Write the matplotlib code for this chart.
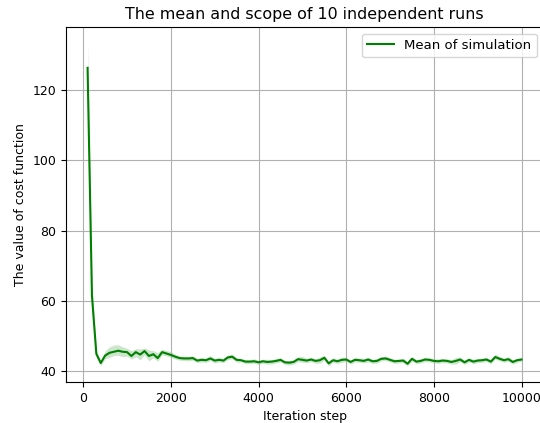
import numpy as np
import matplotlib
matplotlib.use("Agg")
import matplotlib.pyplot as plt

# iteration steps at which the cost was recorded
steps = list(range(100, 10001, 100))

mean_cost = [
    126.3, 61.5, 45.0, 42.4, 44.5, 45.3, 45.6, 45.9, 45.6, 45.5,
    44.4, 45.5, 44.8, 45.8, 44.4, 44.9, 43.8, 45.5, 45.1, 44.7,
    44.2, 43.8, 43.7, 43.7, 43.8, 43.1, 43.3, 43.2, 43.7, 43.1,
    43.3, 43.1, 44.0, 44.2, 43.3, 43.2, 42.8, 42.8, 42.9, 42.6,
    42.9, 42.7, 42.8, 43.0, 43.3, 42.6, 42.5, 42.7, 43.5, 43.3,
    43.1, 43.4, 43.0, 43.2, 43.9, 42.3, 43.2, 42.9, 43.3, 43.4,
    42.7, 43.3, 43.2, 43.0, 43.4, 42.9, 43.0, 43.6, 43.7, 43.3,
    42.9, 43.0, 43.1, 42.2, 43.6, 42.8, 43.0, 43.4, 43.3, 43.0,
    42.9, 43.1, 43.0, 42.7, 43.0, 43.4, 42.6, 43.3, 42.8, 43.1,
    43.2, 43.4, 42.8, 44.1, 43.6, 43.2, 43.5, 42.7, 43.2, 43.4,
]

# distance from the mean to the max / min over the 10 runs
spread_up = [
    7.0, 3.0, 1.0, 0.7, 1.3, 1.7, 1.9, 1.7, 1.4, 1.1,
    1.5, 1.0, 1.6, 0.9, 1.7, 1.0, 1.6, 0.8, 0.9, 0.9,
    0.7, 0.6, 0.7, 0.6, 0.7, 0.6, 0.7, 0.6, 0.8, 0.6,
    0.7, 0.6, 0.7, 0.7, 0.6, 0.5, 0.6, 0.6, 0.7, 0.6,
    0.6, 0.7, 0.6, 0.7, 0.6, 0.5, 0.7, 0.6, 0.7, 1.0,
    0.7, 0.6, 0.6, 0.9, 0.7, 0.6, 0.7, 0.6, 0.8, 0.6,
    0.6, 0.7, 0.6, 0.7, 0.6, 0.6, 0.7, 0.6, 0.7, 0.6,
    0.6, 0.5, 0.7, 0.6, 0.6, 0.6, 0.7, 0.6, 0.6, 0.6,
    0.7, 0.6, 0.6, 0.7, 1.0, 0.7, 0.6, 0.6, 0.7, 0.6,
    0.6, 0.6, 0.6, 0.9, 0.7, 0.6, 0.7, 0.6, 0.6, 0.5,
]
spread_down = [
    8.0, 3.0, 1.0, 0.7, 0.9, 1.3, 1.1, 1.3, 1.4, 1.1,
    0.9, 1.3, 1.5, 1.1, 1.4, 1.0, 0.9, 0.8, 0.7, 0.7,
    0.7, 0.6, 0.6, 0.7, 0.6, 0.6, 0.6, 0.6, 0.6, 0.7,
    0.6, 0.6, 0.6, 0.6, 0.7, 0.5, 0.6, 0.6, 0.6, 0.6,
    0.6, 0.6, 0.7, 0.6, 0.6, 0.6, 0.7, 0.6, 0.7, 0.7,
    0.6, 0.6, 0.7, 0.8, 0.6, 0.7, 0.6, 0.6, 0.7, 0.6,
    0.6, 0.6, 0.6, 0.6, 0.7, 0.6, 0.7, 0.6, 0.6, 0.6,
    0.6, 0.6, 0.6, 0.6, 0.6, 0.6, 0.6, 0.6, 0.6, 0.6,
    0.6, 0.6, 0.6, 0.6, 0.9, 0.6, 0.6, 0.6, 0.6, 0.6,
    0.6, 0.6, 0.6, 0.6, 0.6, 0.6, 0.6, 0.6, 0.6, 0.5,
]

plt.rcParams["font.size"] = 9

fig = plt.figure(figsize=(5.4, 4.23), dpi=100)
ax = fig.add_axes([0.122, 0.097, 0.884, 0.839])

mean = np.array(mean_cost)
upper = mean + np.array(spread_up)
lower = mean - np.array(spread_down)

ax.fill_between(steps, lower, upper, color="green", alpha=0.2, linewidth=0)
ax.plot(steps, mean, color="green", linewidth=1.5, label="Mean of simulation")

ax.set_title("The mean and scope of 10 independent runs", fontsize=11.4)
ax.set_xlabel("Iteration step")
ax.set_ylabel("The value of cost function")
ax.grid(True, color="#b0b0b0", linewidth=0.8)
ax.legend(loc="upper right", fontsize=9.5)

fig.savefig("out.png", dpi=100)
